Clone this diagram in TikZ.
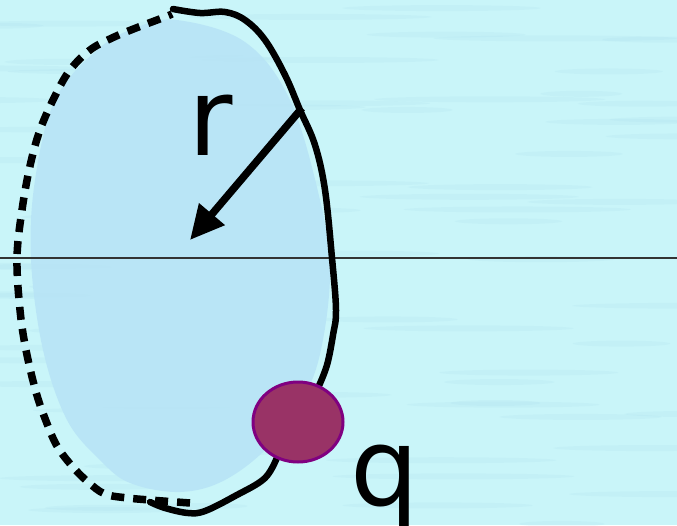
\documentclass[tikz,border=0pt]{standalone}
\usepackage{fontspec}
\setmainfont{DejaVu Sans}
\usetikzlibrary{arrows.meta,shapes.geometric}
\definecolor{bgcyan}{HTML}{C9F5F9}
\definecolor{streak}{HTML}{A6DCEC}
\definecolor{regionblue}{HTML}{B8E4F6}
\definecolor{chargefill}{HTML}{993366}
\definecolor{chargeedge}{HTML}{800080}
\tikzset{
  solidcurve/.style={line width=6.5pt,line cap=round,line join=round,black},
  dashcurve/.style={line width=7.5pt,black,dash pattern=on 13pt off 9pt},
  axisline/.style={line width=1.1pt,black!80},
  radiusarrow/.style={line width=7.5pt,black,-{Triangle[length=34pt,width=32pt]}},
  charge/.style={ellipse,draw=chargeedge,line width=3pt,fill=chargefill,minimum width=90pt,minimum height=80pt,inner sep=0pt},
  bigtext/.style={font=\fontsize{108}{108}\selectfont,inner sep=0pt,anchor=base west}
}
\begin{document}
\begin{tikzpicture}[x=1pt,y=-1pt]
\useasboundingbox (0,0) rectangle (677,525);
\fill[bgcyan] (0,0) rectangle (677,525);
% water streaks
\pgfmathsetseed{7}
\foreach \i in {1,...,80}{
  \pgfmathsetmacro{\sx}{rnd*720-20}
  \pgfmathsetmacro{\sy}{rnd*525}
  \pgfmathsetmacro{\sl}{40+rnd*90}
  \fill[streak,opacity=0.16] (\sx,\sy) ellipse ({\sl} and 3);
}
% blue region
\fill[regionblue,opacity=0.9] plot[smooth cycle,tension=0.6] coordinates {
  (177,20) (245,42) (290,100) (320,200) (330,270) (322,345) (305,395)
  (270,445) (225,480) (180,492) (130,483) (100,460) (67,420) (43,350)
  (31,260) (35,180) (55,100) (97,50) (135,28)};
% horizontal line
\coordinate (hl) at (0,258);
\coordinate (hr) at (677,258);
\draw[axisline] (hl) -- (hr);
% solid part of the closed curve
\draw[solidcurve] plot[smooth,tension=0.6] coordinates {
  (173,9) (200,13) (225,12) (245,20) (265,40) (285,75) (300,110) (315,145)
  (325,190) (332,258) (336,310) (333,335) (327,365) (318,388)};
\draw[solidcurve] plot[smooth,tension=0.6] coordinates {
  (278,455) (265,478) (235,496) (205,511) (188,513) (165,508) (150,502)};
% dashed part
\draw[dashcurve] plot[smooth,tension=0.6] coordinates {
  (190,503) (150,500) (128,498) (105,494) (88,482) (72,466) (57,446) (46,421) (36,392)
  (26,350) (20,310) (17,258) (22,210) (30,166) (40,130) (55,96) (70,70)
  (90,50) (112,38) (136,28) (165,17) (172,14)};
% radius arrow
\coordinate (rtail) at (302,108);
\coordinate (rtip) at (190,240);
\draw[radiusarrow] (rtail) -- (rtip);
% charge
\node[charge] (qcharge) at (298,422) {};
% labels
\node[bigtext] (rlabel) at (188,155) {r};
\node[bigtext] (qlabel) at (350,505) {q};
\end{tikzpicture}
\end{document}
